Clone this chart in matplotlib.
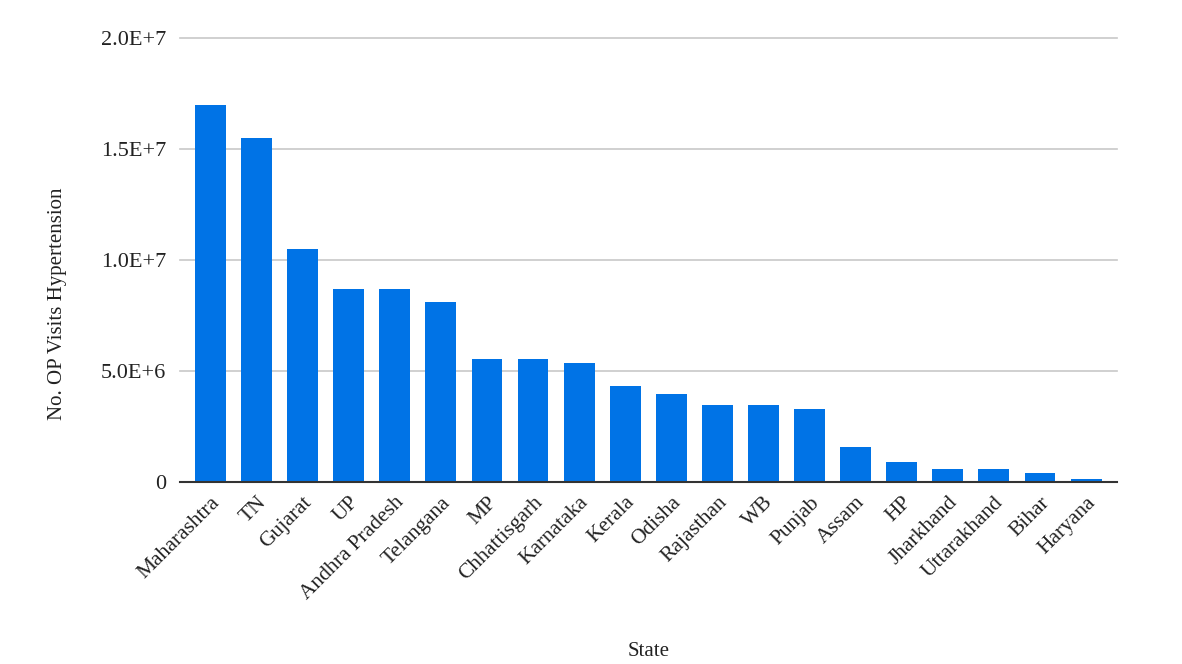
import matplotlib.pyplot as plt

states = [
    "Maharashtra", "TN", "Gujarat", "UP", "Andhra Pradesh", "Telangana",
    "MP", "Chhattisgarh", "Karnataka", "Kerala", "Odisha", "Rajasthan",
    "WB", "Punjab", "Assam", "HP", "Jharkhand", "Uttarakhand", "Bihar",
    "Haryana",
]
op_visits = [
    17.0e6, 15.5e6, 10.5e6, 8.7e6, 8.7e6, 8.1e6,
    5.55e6, 5.55e6, 5.36e6, 4.32e6, 3.98e6, 3.47e6,
    3.47e6, 3.29e6, 1.58e6, 0.9e6, 0.58e6, 0.58e6, 0.4e6,
    0.14e6,
]
y_ticks = [0, 5e6, 1e7, 1.5e7, 2e7]
y_tick_labels = ["0", "5.0E+6", "1.0E+7", "1.5E+7", "2.0E+7"]

plt.rcParams["font.family"] = ["Liberation Serif", "DejaVu Serif"]

fig = plt.figure(figsize=(11.82, 6.64), dpi=100)
ax = fig.add_axes([0.1523, 0.2741, 0.7927, 0.6687])

x = range(len(states))
ax.bar(x, op_visits, width=0.67, color="#0073E6", zorder=3)

ax.set_xlim(-0.66, len(states) - 1 + 0.67)
ax.set_ylim(0, 2e7)
ax.set_yticks(y_ticks)
ax.set_yticklabels(y_tick_labels)
ax.set_xticks(list(x))
ax.set_xticklabels(states, rotation=45, ha="right", rotation_mode="anchor")

ax.tick_params(axis="y", length=0, pad=10, labelsize=16, colors="#222222")
ax.tick_params(axis="x", length=0, pad=8, labelsize=15.5, colors="#222222")

ax.grid(axis="y", color="#c8c8c8", linewidth=1.2, zorder=0, clip_on=False)
for side in ["top", "right", "left"]:
    ax.spines[side].set_visible(False)
ax.spines["bottom"].set_color("#333333")
ax.spines["bottom"].set_linewidth(1.5)
ax.spines["bottom"].set_zorder(4)

fig.text(58 / 1182, 1 - 304 / 664, "No. OP Visits Hypertension", rotation=90,
         ha="center", va="center", fontsize=15, color="#222222")
fig.text(649 / 1182, 1 - 652 / 664, "State", ha="center", va="center",
         fontsize=15, color="#222222")

fig.savefig("out.png", dpi=100)
